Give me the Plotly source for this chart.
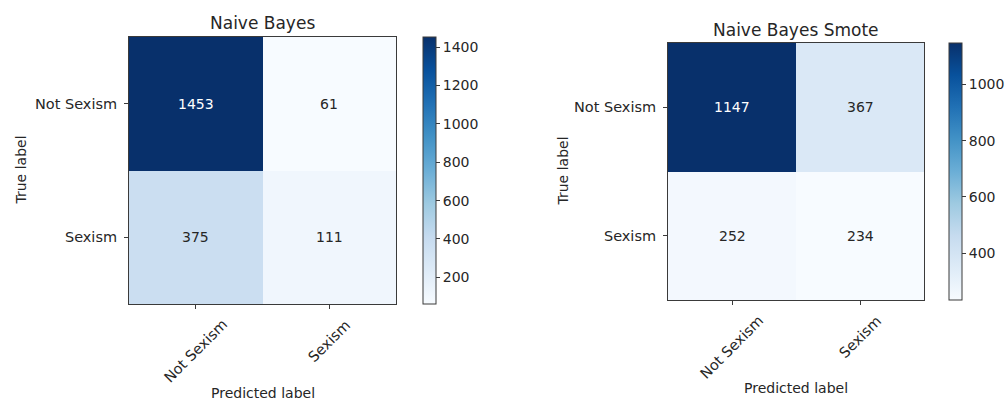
import plotly.graph_objects as go

classes = ["Not Sexism", "Sexism"]
titles = ["Naive Bayes", "Naive Bayes Smote"]
cm_nb = [[1453, 61], [375, 111]]
cm_smote = [[1147, 367], [252, 234]]
matrices = [cm_nb, cm_smote]

W, H = 1006, 401
TXT = "#262626"
LINE = "#3a3a3a"
FONT = "DejaVu Sans"

# layout boxes in pixels: (x0, x1, y0, y1) for plot; colorbar x0
boxes = [
    dict(x0=129, x1=396, y0=37, y1=304, cbx=423, title_y=23, ylab_x=20, xlab_y=393),
    dict(x0=668, x1=924, y0=43, y1=300, cbx=949, title_y=30, ylab_x=563, xlab_y=388),
]

def px(x):
    return x / W

def py(y):
    return 1 - y / H

fig = go.Figure()
annotations = []
for k, (cm, b, title) in enumerate(zip(matrices, boxes, titles)):
    ax = "" if k == 0 else str(k + 1)
    zmin = min(min(r) for r in cm)
    zmax = max(max(r) for r in cm)
    fig.add_trace(go.Heatmap(
        z=cm, x=[0, 1], y=[0, 1], colorscale="Blues", zmin=zmin, zmax=zmax,
        xaxis="x" + ax, yaxis="y" + ax, showscale=True,
        colorbar=dict(
            x=px(b["cbx"]), xanchor="left", xref="paper", xpad=0, ypad=0,
            y=py(b["y0"]), yanchor="top", len=(b["y1"] - b["y0"]) / H, lenmode="fraction",
            thickness=13, thicknessmode="pixels", outlinewidth=1, outlinecolor=LINE,
            ticks="outside", ticklen=4, tickcolor=LINE, tickwidth=1, dtick=200,
            tickfont=dict(family=FONT, size=14, color=TXT),
        ),
        hoverinfo="skip",
    ))
    dom_x = [px(b["x0"]), px(b["x1"])]
    dom_y = [py(b["y1"]), py(b["y0"])]
    common = dict(showline=True, linecolor=LINE, linewidth=1, mirror=True, showgrid=False,
                  zeroline=False, ticks="outside", ticklen=4, tickcolor=LINE,
                  tickvals=[0, 1], range=[-0.5, 1.5])
    fig.update_layout(**{
        "xaxis" + ax: dict(domain=dom_x, anchor="y" + ax, showticklabels=False, **common),
        "yaxis" + ax: dict(domain=dom_y, anchor="x" + ax, ticktext=classes,
                           autorange=False, ticklabelstandoff=4,
                           tickfont=dict(family=FONT, size=14.5, color=TXT),
                           **{**common, "range": [1.5, -0.5]}),
    })
    thresh = zmax / 2
    for i in range(2):
        for j in range(2):
            v = cm[i][j]
            annotations.append(dict(
                x=j, y=i, xref="x" + ax, yref="y" + ax, text=str(v), showarrow=False,
                font=dict(family=FONT, size=14, color="white" if v > thresh else TXT),
            ))
    # rotated x tick labels
    for j, c in enumerate(classes):
        annotations.append(dict(
            x=j, xref="x" + ax, y=py(b["y1"] + 10), yref="paper", text=c, showarrow=False,
            textangle=-45, xanchor="center", yanchor="top",
            font=dict(family=FONT, size=14.5, color=TXT),
        ))
    cx = (b["x0"] + b["x1"]) / 2
    annotations.append(dict(x=px(cx), y=py(b["title_y"]), xref="paper", yref="paper",
                            text=title, showarrow=False, xanchor="center", yanchor="middle",
                            font=dict(family=FONT, size=17, color=TXT)))
    annotations.append(dict(x=px(b["ylab_x"]), y=py((b["y0"] + b["y1"]) / 2), xref="paper", yref="paper",
                            text="True label", showarrow=False, textangle=-90,
                            xanchor="center", yanchor="middle",
                            font=dict(family=FONT, size=14, color=TXT)))
    annotations.append(dict(x=px(cx), y=py(b["xlab_y"]), xref="paper", yref="paper",
                            text="Predicted label", showarrow=False,
                            xanchor="center", yanchor="middle",
                            font=dict(family=FONT, size=14, color=TXT)))

fig.update_layout(
    width=W, height=H, margin=dict(l=0, r=0, t=0, b=0),
    paper_bgcolor="white", plot_bgcolor="white", annotations=annotations,
    showlegend=False,
)
fig.write_html("out.html")
